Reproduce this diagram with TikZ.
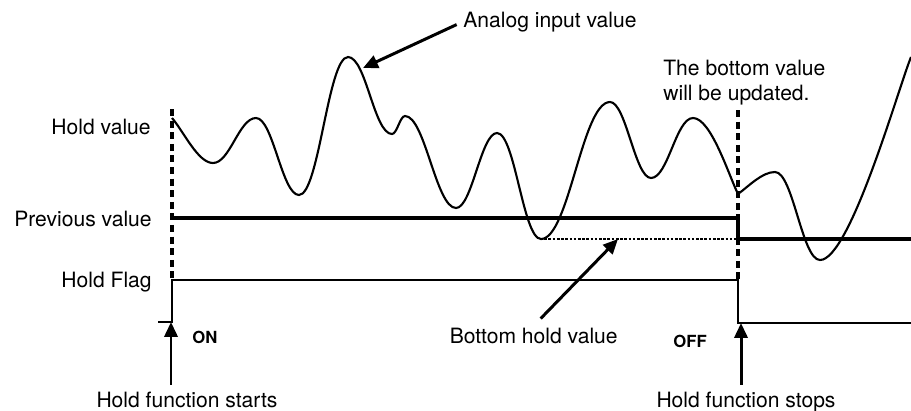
\documentclass[tikz,border=0pt]{standalone}
\usepackage{fontspec}
\setmainfont{TeX Gyre Heros}
\usepackage{tikz}
\usetikzlibrary{arrows.meta,calc}

\begin{document}
\begin{tikzpicture}[x=0.02cm,y=-0.02cm,
    font=\fontsize{12}{14.2}\selectfont,
    lbl/.style={inner sep=0pt},
    tag/.style={inner sep=0pt,font=\fontsize{9.5}{11}\selectfont\bfseries},
    wave/.style={line width=1.2pt},
    guide/.style={line width=2pt,dash pattern=on 4pt off 2.6pt},
    level/.style={line width=2.3pt},
    flagline/.style={line width=1.2pt},
    pointer/.style={line width=1.7pt,-{Triangle[length=8.5pt,width=7.5pt]}}]
  \useasboundingbox (0,0) rectangle (911,410);

  % row labels
  \node[lbl,anchor=base east] (holdlbl) at (151,134) {Hold value};
  \node[lbl,anchor=base east] (prevlbl) at (152,226) {Previous value};
  \node[lbl,anchor=base east] (flaglbl) at (152,287) {Hold Flag};

  % callouts
  \node[lbl,anchor=base west] (analog) at (463,27) {Analog input value};
  \node[lbl,anchor=north west,align=left] (update) at (663,59.5)
    {The bottom value\\will be updated.};
  \node[lbl,anchor=base east] (bottomlbl) at (618,343) {Bottom hold value};
  \node[tag,anchor=base west] (on) at (192,343) {ON};
  \node[tag,anchor=base west] (off) at (673,347) {OFF};
  \node[lbl,anchor=base] (starts) at (187,407) {Hold function starts};
  \node[lbl,anchor=base] (stops) at (746,407) {Hold function stops};

  % points the arrows point at
  \coordinate (peak) at (363,68);
  \coordinate (bottomtip) at (618,239);
  \coordinate (rise) at (171,322);
  \coordinate (fall) at (741,323);

  % guides
  \draw[guide] (172,109) -- (172,280);
  \draw[guide] (738,110) -- (738,280);

  % previous value and bottom value
  \draw[level] (172,218) -- (738,218) -- (738,239) -- (911,239);
  \draw[line width=1.5pt,dash pattern=on 1.5pt off 0.9pt] (540,239) -- (738,239);

  % hold flag
  \draw[flagline] (158,322) -- (172,322) -- (172,280) -- (738,280)
    -- (738,323) -- (911,323);

  % analog input
  \draw[wave] (172,118) .. controls (184,132) and (198,163) .. (213,163)
    .. controls (230,163) and (239,118) .. (256,118)
    .. controls (273,118) and (282,195) .. (299,195)
    .. controls (319,195) and (328,57) .. (348,57)
    .. controls (366,57) and (374,134) .. (392,134)
    .. controls (397,134) and (400,116) .. (405,116)
    .. controls (425,116) and (436,208) .. (456,208)
    .. controls (472,208) and (481,133) .. (497,133)
    .. controls (515,133) and (523,239) .. (541,239)
    .. controls (569,239) and (582,102) .. (610,102)
    .. controls (626,102) and (635,178) .. (651,178)
    .. controls (668,178) and (676,118) .. (693,118)
    .. controls (711,118) and (729,176) .. (738,194)
    .. controls (749,186) and (762,172) .. (775,172)
    .. controls (793,172) and (802,260) .. (820,260)
    .. controls (850,260) and (899,86) .. (911,57);

  % arrows
  \draw[pointer,shorten <=4pt] (analog.west) -- (peak);
  \draw[pointer] ([xshift=4pt,yshift=5pt]bottomlbl.north) -- (bottomtip);
  \draw[pointer,shorten <=3.7pt] (starts.north -| rise) -- (rise);
  \draw[pointer,shorten <=3.7pt] (stops.north -| fall) -- (fall);
\end{tikzpicture}
\end{document}
